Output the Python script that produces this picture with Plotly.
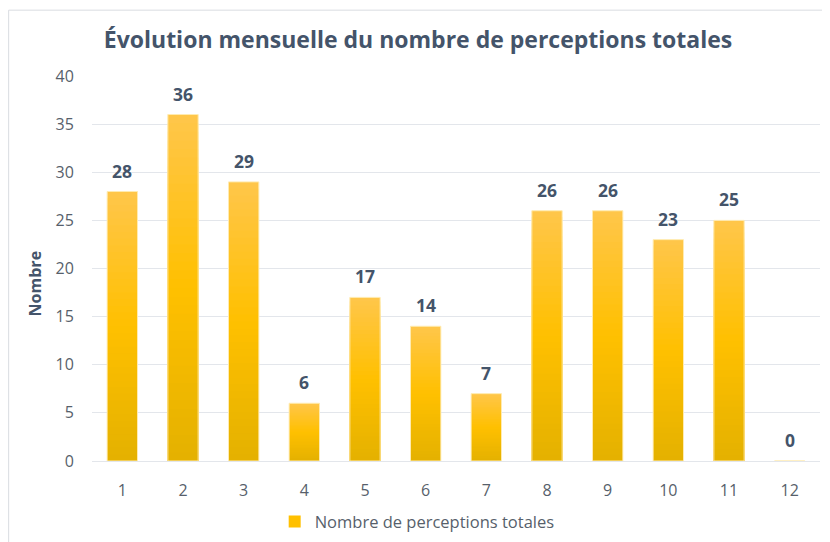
import plotly.graph_objects as go

months = [1, 2, 3, 4, 5, 6, 7, 8, 9, 10, 11, 12]
values = [28, 36, 29, 6, 17, 14, 7, 26, 26, 23, 25, 0]
series_name = "Nombre de perceptions totales"
title_text = "Évolution mensuelle du nombre de perceptions totales"
y_title = "Nombre"
y_ticks = [0, 5, 10, 15, 20, 25, 30, 35, 40]

FONT = "Open Sans"
TXT = "#44546A"
TICK = "#575F6B"
GRID = "#E3E6EB"

top_c = (255, 198, 75)
mid_c = (255, 192, 0)
bot_c = (228, 177, 0)


def lerp(a, b, t):
    return tuple(round(a[i] + (b[i] - a[i]) * t) for i in range(3))


def grad(t):  # t=0 bottom, 1 top
    if t < 0.5:
        return lerp(bot_c, mid_c, t / 0.5)
    return lerp(mid_c, top_c, (t - 0.5) / 0.5)


N = 40
BW = 0.5
fig = go.Figure()
# gradient: tallest (top colour) first, shorter layers painted over it
for k in range(N - 1, -1, -1):
    c = grad((k + 0.5) / N)
    fig.add_trace(go.Bar(
        x=months,
        y=[v * (k + 1) / N for v in values],
        width=BW,
        marker=dict(color="rgb(%d,%d,%d)" % c, line=dict(width=0)),
        showlegend=False,
        hoverinfo="skip",
    ))

# outline
fig.add_trace(go.Bar(
    x=months, y=values, width=BW, name=series_name,
    marker=dict(color="rgba(0,0,0,0)", line=dict(color="#FFEBB0", width=1)),
    showlegend=False,
))
# legend entry
fig.add_trace(go.Bar(
    x=[None], y=[None], name=series_name,
    marker=dict(color="#FFC000", line=dict(width=0)),
    showlegend=True,
))

for m, v in zip(months, values):
    fig.add_annotation(x=m, y=v, text="<b>%d</b>" % v, showarrow=False,
                       yanchor="bottom", yshift=7,
                       font=dict(family=FONT, size=17.5, color=TXT))

# y axis title
fig.add_annotation(xref="paper", yref="paper", x=-0.079, y=0.46,
                   text="<b>" + y_title + "</b>", textangle=-90, showarrow=False,
                   xanchor="center", yanchor="middle",
                   font=dict(family=FONT, size=16, color=TXT))

fig.add_shape(type="rect", xref="paper", yref="paper",
              x0=-0.1145, x1=1.04, y0=-0.26, y1=1.171,
              line=dict(color="#D9DCE1", width=1), fillcolor="rgba(0,0,0,0)",
              layer="below")

fig.update_layout(
    width=830, height=542,
    margin=dict(l=84, r=18, t=68, b=89, autoexpand=False),
    paper_bgcolor="white", plot_bgcolor="white",
    barmode="overlay",
    font=dict(family=FONT, color=TICK, size=16),
    title=dict(text="<b>" + title_text + "</b>", xref="container", yref="container",
               x=0.494, y=0.941, xanchor="center", yanchor="middle",
               font=dict(family=FONT, size=23, color=TXT)),
    xaxis=dict(tickvals=months, ticktext=[str(m) for m in months], range=[0.5, 12.5],
               showgrid=False, zeroline=False, showline=False,
               ticks="outside", ticklen=15, tickcolor="rgba(0,0,0,0)",
               tickfont=dict(family=FONT, size=16, color=TICK), fixedrange=True),
    yaxis=dict(range=[0, 40], tickvals=y_ticks, showgrid=True, gridcolor=GRID, gridwidth=1,
               zeroline=True, zerolinecolor=GRID, zerolinewidth=1, showline=False,
               ticks="outside", ticklen=14, tickcolor="rgba(0,0,0,0)",
               tickfont=dict(family=FONT, size=16, color=TICK),
               automargin=False, fixedrange=True),
    legend=dict(orientation="h", xref="container", yref="container",
                x=0.493, y=0.052, xanchor="center", yanchor="middle",
                font=dict(family=FONT, size=16.5, color=TICK), itemwidth=30,
                bgcolor="rgba(0,0,0,0)"),
    showlegend=True,
)

fig.write_html("out.html")
